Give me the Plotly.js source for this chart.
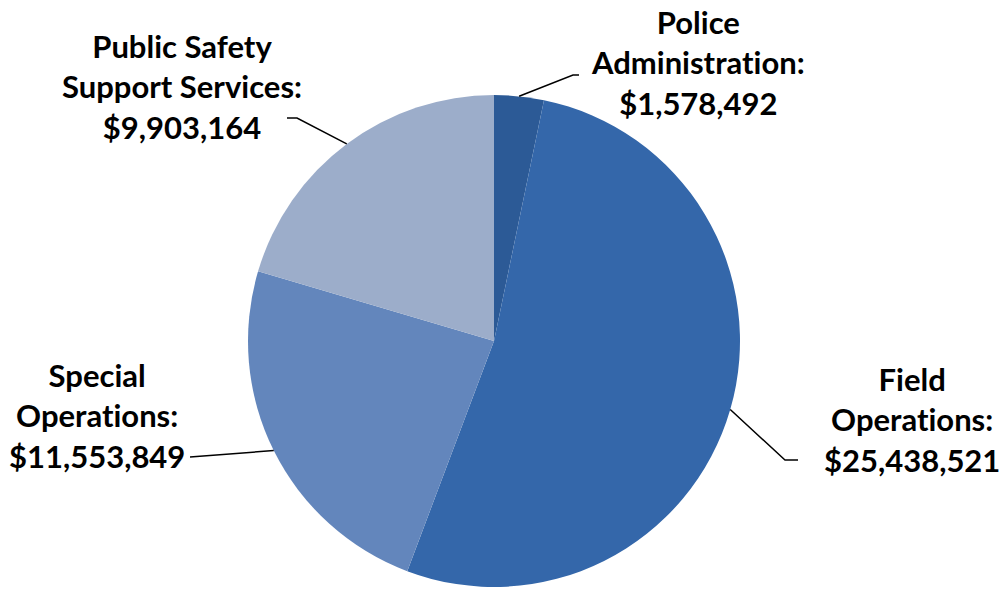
<!DOCTYPE html>
<html>
<head>
<meta charset="utf-8">
<script src="https://cdn.plot.ly/plotly-3.0.1.min.js"></script>
<style>html,body{margin:0;padding:0;background:#fff;}#chart{width:1003px;height:590px;}svg text{font-variant-ligatures:none;font-feature-settings:"liga" 0,"clig" 0;}</style>
</head>
<body>
<div id="chart"></div>
<script>
// ---- data ----
const categories = ["Police Administration", "Field Operations", "Special Operations", "Public Safety Support Services"];
const labelLines = [["Police", "Administration:"], ["Field", "Operations:"], ["Special", "Operations:"], ["Public Safety", "Support Services:"]];
const values = [1578492, 25438521, 11553849, 9903164];
const colors = ["#2c5a96", "#3467aa", "#6386bc", "#9cadca"];

// ---- layout geometry ----
const W = 1003, H = 590;
const cx = 494, cy = 341, R = 246;
// label text centre (px) and elbow / end points of leader lines (px)
const labelPos = [
  {x: 698, y: 63, elbow: [573, 75], end: [579, 75]},
  {x: 912, y: 419, elbow: [785, 460], end: [798, 460]},
  {x: 97, y: 415, elbow: null, end: [190, 457]},
  {x: 182, y: 86, elbow: [297, 118], end: [287, 118]}
];

function fmt(v) { return "$" + v.toLocaleString("en-US"); }
const px = x => x / W, py = y => 1 - y / H;

const total = values.reduce((a, b) => a + b, 0);
const shapes = [], annotations = [];
let acc = 0;
values.forEach((v, i) => {
  const mid = (acc + v / 2) / total * 2 * Math.PI;
  acc += v;
  const sx = cx + R * Math.sin(mid), sy = cy - R * Math.cos(mid);
  const lp = labelPos[i];
  let path = `M ${px(sx)} ${py(sy)}`;
  if (lp.elbow) path += ` L ${px(lp.elbow[0])} ${py(lp.elbow[1])}`;
  path += ` L ${px(lp.end[0])} ${py(lp.end[1])}`;
  shapes.push({type: "path", xref: "paper", yref: "paper", path: path, line: {color: "#000", width: 1.5}});
  annotations.push({
    xref: "paper", yref: "paper", x: px(lp.x), y: py(lp.y), xanchor: "center", yanchor: "middle",
    showarrow: false, align: "center",
    text: "<b>" + labelLines[i].concat([fmt(v)]).join("<br>") + "</b>",
    font: {family: "Lato, 'Open Sans', sans-serif", size: 31, color: "#000"}
  });
});

const trace = {
  type: "pie", labels: categories, values: values, sort: false, direction: "clockwise", rotation: 0,
  textinfo: "none", hoverinfo: "label+value",
  marker: {colors: colors, line: {width: 0}},
  domain: {x: [(cx - R) / W, (cx + R) / W], y: [1 - (cy + R) / H, 1 - (cy - R) / H]}
};

Plotly.newPlot("chart", [trace], {
  width: W, height: H, margin: {l: 0, r: 0, t: 0, b: 0},
  showlegend: false, paper_bgcolor: "#fff", plot_bgcolor: "#fff",
  shapes: shapes, annotations: annotations
}, {displayModeBar: false, staticPlot: true});
</script>
</body>
</html>
